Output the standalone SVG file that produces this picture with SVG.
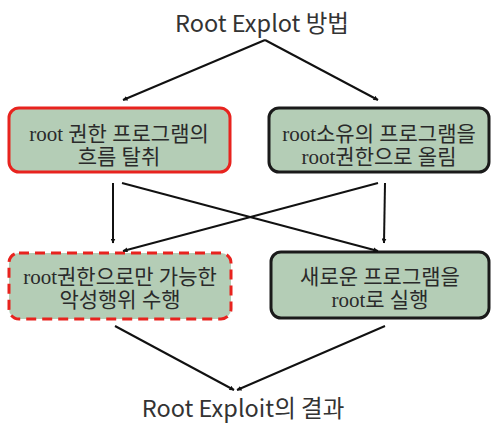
<svg xmlns="http://www.w3.org/2000/svg" width="493" height="423" viewBox="0 0 493 423">
<defs>
<marker id="ah" viewBox="0 0 10 10" refX="9" refY="5" markerWidth="5" markerHeight="5" orient="auto" markerUnits="userSpaceOnUse">
<path d="M0,0 L10,5 L0,10 z" fill="#111"/>
</marker>
<style>
.box{fill:#b4cdb6;stroke-width:3}
.blk{stroke:#1a1a1a}
.red{stroke:#e8231e}
.dash{stroke-dasharray:10 6}
.bt{font-family:"Liberation Serif","Noto Sans CJK KR",serif;font-size:21px;fill:#2a2a2a;text-anchor:middle}
.tt{font-family:"Noto Sans CJK KR","Noto Sans",sans-serif;font-size:23.5px;fill:#333;text-anchor:middle}
.c{fill:none;stroke:#111;stroke-width:2;marker-end:url(#ah)}
</style>
</defs>
<g id="title"><text class="tt" x="262" y="32">Root Explot 방법</text></g>
<g id="result"><text class="tt" x="243" y="417">Root Exploit의 결과</text></g>
<g id="n1"><rect class="box red" x="9" y="108" width="221" height="64" rx="10"/>
<text class="bt" x="119" y="141">root 권한 프로그램의</text>
<text class="bt" x="119" y="164">흐름 탈취</text></g>
<g id="n2"><rect class="box blk" x="269" y="108" width="220" height="64" rx="10"/>
<text class="bt" x="379" y="141">root소유의 프로그램을</text>
<text class="bt" x="379" y="164">root권한으로 올림</text></g>
<g id="n3"><rect class="box red dash" x="9" y="253" width="222" height="66" rx="10"/>
<text class="bt" x="120" y="284">root권한으로만 가능한</text>
<text class="bt" x="120" y="307">악성행위 수행</text></g>
<g id="n4"><rect class="box blk" x="271" y="252" width="218" height="66" rx="10"/>
<text class="bt" x="380" y="284">새로운 프로그램을</text>
<text class="bt" x="380" y="307">root로 실행</text></g>
<g id="connectors">
<path class="c" d="M265,40 L123,100"/>
<path class="c" d="M265,40 L378,100"/>
<path class="c" d="M113,183 L113,243"/>
<path class="c" d="M122,183 L378,251"/>
<path class="c" d="M385,183 L384,243"/>
<path class="c" d="M378,183 L123,251"/>
<path class="c" d="M115,326 L234,390"/>
<path class="c" d="M385,326 L237,390"/>
</g>
</svg>
